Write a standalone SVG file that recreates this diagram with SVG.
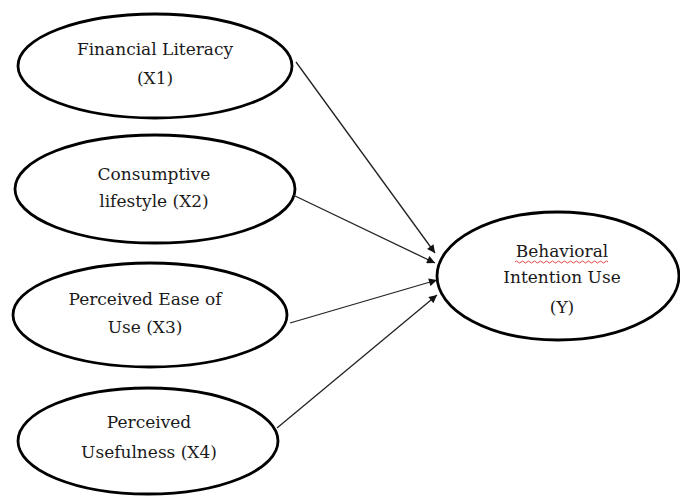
<svg xmlns="http://www.w3.org/2000/svg" width="680" height="497" viewBox="0 0 680 497">
<style>
.node ellipse{fill:#fff;stroke:#000;stroke-width:2.8}
.node text{font-family:"DejaVu Serif","Liberation Serif",serif;font-size:17px;fill:#1a1a1a;text-anchor:middle}
.conn line{stroke:#222;stroke-width:1.3;marker-end:url(#ah)}
</style>
<defs>
<marker id="ah" viewBox="0 0 10 10" refX="10" refY="5" markerWidth="9" markerHeight="8" markerUnits="userSpaceOnUse" orient="auto">
<path d="M0,0 L10,5 L0,10 z" fill="#111"/>
</marker>
</defs>
<rect width="680" height="497" fill="#fff"/>
<g id="x1" class="node">
<ellipse cx="155" cy="66" rx="137" ry="52"/>
<text x="155" y="55">Financial Literacy</text>
<text x="155" y="84">(X1)</text>
</g>
<g id="x2" class="node">
<ellipse cx="155" cy="189" rx="140" ry="54"/>
<text x="154" y="180">Consumptive</text>
<text x="154" y="207">lifestyle (X2)</text>
</g>
<g id="x3" class="node">
<ellipse cx="150" cy="315" rx="137" ry="52"/>
<text x="145" y="305">Perceived Ease of</text>
<text x="145" y="333">Use (X3)</text>
</g>
<g id="x4" class="node">
<ellipse cx="148" cy="441" rx="130" ry="53"/>
<text x="149" y="428">Perceived</text>
<text x="149" y="458">Usefulness (X4)</text>
</g>
<g id="y" class="node">
<ellipse cx="558" cy="276" rx="121" ry="64"/>
<text x="562" y="257">Behavioral</text>
<path d="M515,262 q1.5,-2 3,0 t3,0 t3,0 t3,0 t3,0 t3,0 t3,0 t3,0 t3,0 t3,0 t3,0 t3,0 t3,0 t3,0 t3,0 t3,0 t3,0 t3,0 t3,0 t3,0 t3,0 t3,0 t3,0 t3,0 t3,0 t3,0 t3,0 t3,0 t3,0 t3,0 t3,0" fill="none" stroke="#d33" stroke-width="0.9"/>
<text x="562" y="283">Intention Use</text>
<text x="562" y="313">(Y)</text>
</g>
<g id="connectors" class="conn">
<line x1="296" y1="62" x2="435" y2="253"/>
<line x1="293" y1="195" x2="435" y2="263"/>
<line x1="290" y1="323" x2="437" y2="280"/>
<line x1="277" y1="428" x2="437" y2="295"/>
</g>
</svg>
